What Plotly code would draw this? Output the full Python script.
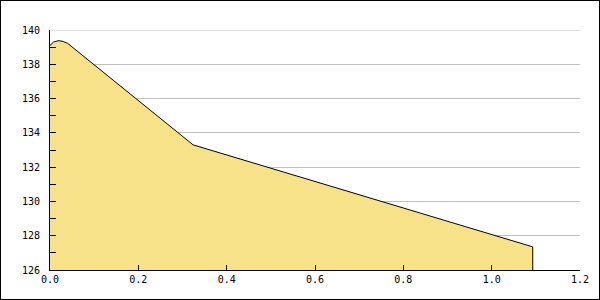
import plotly.graph_objects as go

x_vals = [0.0, 0.008, 0.02, 0.03, 0.04, 0.324, 1.093, 1.093]
y_vals = [139.1, 139.3, 139.38, 139.33, 139.22, 133.3, 127.35, 126.0]
x_ticks = [0.0, 0.2, 0.4, 0.6, 0.8, 1.0, 1.2]
y_ticks = [126, 128, 130, 132, 134, 136, 138, 140]

L, R, T, B = 50, 20, 30, 30
W, H = 600, 300
pw, ph = W - L - R, H - T - B

fig = go.Figure()
fig.add_trace(go.Scatter(
    x=x_vals, y=y_vals, mode="lines", fill="tozeroy",
    fillcolor="#F7E28A", line=dict(color="black", width=1),
    hoverinfo="skip", showlegend=False))

font = dict(family="DejaVu Sans Mono", size=10, color="black")
fig.update_layout(
    width=W, height=H, margin=dict(l=L, r=R, t=T, b=B),
    paper_bgcolor="white", plot_bgcolor="white", font=font,
    xaxis=dict(range=[0, 1.2], tickvals=x_ticks,
               ticktext=[f"{v:.1f}" for v in x_ticks],
               ticks="inside", ticklen=5, tickcolor="black",
               showline=True, linecolor="black", linewidth=1,
               showgrid=False, zeroline=False, tickfont=font),
    yaxis=dict(range=[y_ticks[0], y_ticks[-1]], tickvals=y_ticks,
               ticks="inside", ticklen=6, tickcolor="black",
               showline=True, linecolor="black", linewidth=1,
               showgrid=True, gridcolor="#C0C0C0", gridwidth=1,
               zeroline=False, tickfont=font, ticklabelstandoff=7,
               minor=dict(dtick=1, ticks="inside", ticklen=6,
                          tickcolor="black", showgrid=False)),
    shapes=[
        dict(type="line", xref="paper", yref="y", x0=0, x1=1,
             y0=y_ticks[-1], y1=y_ticks[-1],
             line=dict(color="#C0C0C0", width=1), layer="below"),
        dict(type="rect", xref="paper", yref="paper",
             x0=-L / pw, x1=1 + R / pw, y0=-B / ph, y1=1 + T / ph,
             line=dict(color="black", width=2), layer="above"),
    ],
)
fig.write_html("out.html")
